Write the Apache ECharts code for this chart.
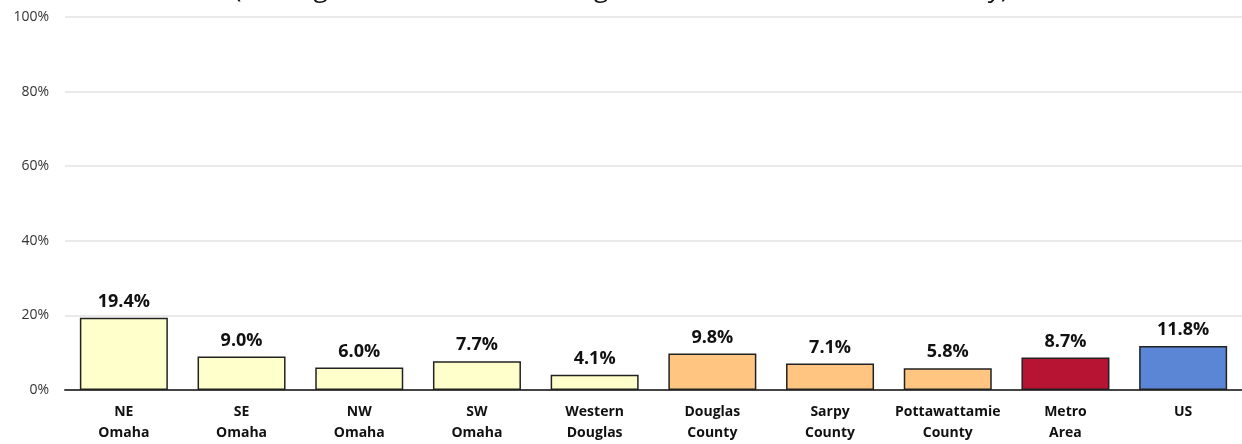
<!DOCTYPE html>
<html>
<head>
<meta charset="utf-8">
<script src="https://cdn.jsdelivr.net/npm/echarts@6/dist/echarts.min.js"></script>
<style>
  html, body { margin: 0; padding: 0; background: #fff; }
  #chart { width: 1242px; height: 444px; }
</style>
</head>
<body>
<div id="chart"></div>
<script>
// categories (two-line labels) and their values in percent
const categories = ['NE\nOmaha', 'SE\nOmaha', 'NW\nOmaha', 'SW\nOmaha', 'Western\nDouglas',
    'Douglas\nCounty', 'Sarpy\nCounty', 'Pottawattamie\nCounty', 'Metro\nArea', 'US'];
const values = [19.4, 9.0, 6.0, 7.7, 4.1, 9.8, 7.1, 5.8, 8.7, 11.8];
const barColors = ['#FFFFCC', '#FFFFCC', '#FFFFCC', '#FFFFCC', '#FFFFCC',
    '#FFC581', '#FFC581', '#FFC581', '#B71332', '#5B86D6'];
const yTicks = [0, 20, 40, 60, 80, 100];

const myChart = echarts.init(document.getElementById('chart'));

const option = {
    animation: false,
    title: {
        // only the bottom of this line is visible in the picture
        text: '(Among Civilian Labor Force Age 16+, Omaha Area, 2019 Survey)',
        left: 'center',
        top: -28,
        textStyle: {
            fontFamily: 'Open Sans',
            fontWeight: 'normal',
            fontSize: 26,
            color: '#111'
        }
    },
    grid: {
        left: 65,
        right: -4,
        top: 17,
        bottom: 52,
        containLabel: false
    },
    xAxis: {
        type: 'category',
        data: categories,
        axisTick: { show: false },
        axisLine: { lineStyle: { color: '#444', width: 2 } },
        axisLabel: {
            interval: 0,
            margin: 12,
            color: '#111',
            fontFamily: 'Open Sans',
            fontWeight: 'bold',
            fontSize: 14,
            lineHeight: 21
        }
    },
    yAxis: {
        type: 'value',
        min: yTicks[0],
        max: yTicks[yTicks.length - 1],
        interval: 20,
        axisLabel: {
            formatter: '{value}%',
            margin: 16,
            color: '#333',
            fontFamily: 'Open Sans',
            fontSize: 14
        },
        splitLine: { lineStyle: { color: '#e3e3e3', width: 1.5 } },
        axisLine: { show: false },
        axisTick: { show: false }
    },
    series: [
        {
            type: 'bar',
            barWidth: 88,
            data: values.map((v, i) => ({
                value: v,
                itemStyle: { color: barColors[i] }
            })),
            itemStyle: {
                borderColor: '#222',
                borderWidth: 1.5
            },
            label: {
                show: true,
                position: 'top',
                distance: 7,
                formatter: (p) => p.value.toFixed(1) + '%',
                color: '#111',
                fontFamily: 'Open Sans',
                fontWeight: 'bold',
                fontSize: 18
            }
        }
    ]
};

myChart.setOption(option);
</script>
</body>
</html>
